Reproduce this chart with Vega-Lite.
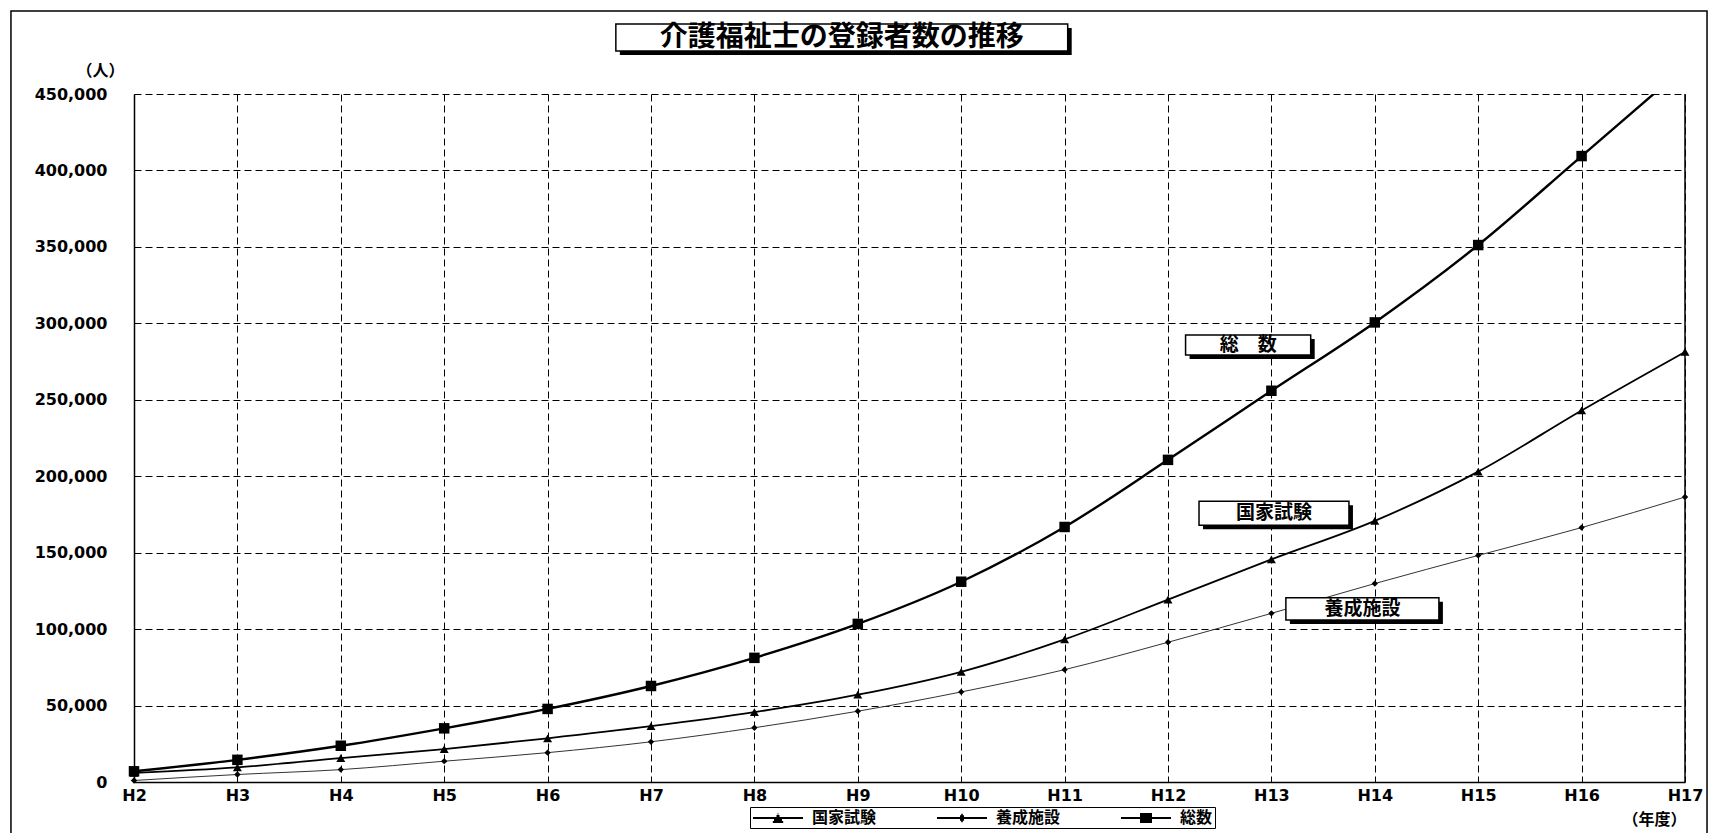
{
  "$schema": "https://vega.github.io/schema/vega-lite/v6.json",
  "width": 1551,
  "height": 688,
  "autosize": {"type": "none"},
  "padding": {"left": 134, "top": 94, "right": 25, "bottom": 51},
  "background": "white",
  "config": {"view": {"stroke": null}, "font": "Noto Sans CJK JP"},
  "datasets": {
    "counts": [
      {"year": 2, "series": "国家試験", "value": 6000},
      {"year": 3, "series": "国家試験", "value": 9600},
      {"year": 4, "series": "国家試験", "value": 15600},
      {"year": 5, "series": "国家試験", "value": 21500},
      {"year": 6, "series": "国家試験", "value": 28600},
      {"year": 7, "series": "国家試験", "value": 36500},
      {"year": 8, "series": "国家試験", "value": 45700},
      {"year": 9, "series": "国家試験", "value": 57100},
      {"year": 10, "series": "国家試験", "value": 72100},
      {"year": 11, "series": "国家試験", "value": 93300},
      {"year": 12, "series": "国家試験", "value": 119300},
      {"year": 13, "series": "国家試験", "value": 145600},
      {"year": 14, "series": "国家試験", "value": 170800},
      {"year": 15, "series": "国家試験", "value": 203000},
      {"year": 16, "series": "国家試験", "value": 243000},
      {"year": 17, "series": "国家試験", "value": 281300},
      {"year": 2, "series": "養成施設", "value": 1000},
      {"year": 3, "series": "養成施設", "value": 4900},
      {"year": 4, "series": "養成施設", "value": 8100},
      {"year": 5, "series": "養成施設", "value": 13600},
      {"year": 6, "series": "養成施設", "value": 19200},
      {"year": 7, "series": "養成施設", "value": 26300},
      {"year": 8, "series": "養成施設", "value": 35500},
      {"year": 9, "series": "養成施設", "value": 46300},
      {"year": 10, "series": "養成施設", "value": 58900},
      {"year": 11, "series": "養成施設", "value": 73500},
      {"year": 12, "series": "養成施設", "value": 91400},
      {"year": 13, "series": "養成施設", "value": 110300},
      {"year": 14, "series": "養成施設", "value": 129800},
      {"year": 15, "series": "養成施設", "value": 148200},
      {"year": 16, "series": "養成施設", "value": 166400},
      {"year": 17, "series": "養成施設", "value": 186400},
      {"year": 2, "series": "総数", "value": 7000},
      {"year": 3, "series": "総数", "value": 14500},
      {"year": 4, "series": "総数", "value": 23700},
      {"year": 5, "series": "総数", "value": 35100},
      {"year": 6, "series": "総数", "value": 47800},
      {"year": 7, "series": "総数", "value": 62800},
      {"year": 8, "series": "総数", "value": 81200},
      {"year": 9, "series": "総数", "value": 103400},
      {"year": 10, "series": "総数", "value": 131000},
      {"year": 11, "series": "総数", "value": 166800},
      {"year": 12, "series": "総数", "value": 210700},
      {"year": 13, "series": "総数", "value": 255900},
      {"year": 14, "series": "総数", "value": 300600},
      {"year": 15, "series": "総数", "value": 351200},
      {"year": 16, "series": "総数", "value": 409400},
      {"year": 17, "series": "総数", "value": 467700}
    ],
    "boxes": [
      {"label": "介護福祉士の登録者数の推移", "kind": "title", "x0": 6.66, "x1": 11.03, "xm": 8.845, "y0": 478100, "y1": 495800, "ym": 486950},
      {"label": "総　数", "kind": "note", "x0": 12.17, "x1": 13.38, "xm": 12.775, "y0": 279300, "y1": 292400, "ym": 285850},
      {"label": "国家試験", "kind": "note", "x0": 12.3, "x1": 13.75, "xm": 13.025, "y0": 168000, "y1": 183700, "ym": 175850},
      {"label": "養成施設", "kind": "note", "x0": 13.14, "x1": 14.62, "xm": 13.88, "y0": 106000, "y1": 120500, "ym": 113250}
    ]
  },
  "resolve": {"scale": {"shape": "independent", "size": "independent"}},
  "layer": [
    {
      "data": {"name": "counts"},
      "mark": {"type": "line", "interpolate": "monotone", "clip": true},
      "encoding": {
        "x": {
          "field": "year",
          "type": "quantitative",
          "scale": {"domain": [2, 17], "nice": false, "zero": false},
          "axis": {
            "values": [2, 3, 4, 5, 6, 7, 8, 9, 10, 11, 12, 13, 14, 15, 16, 17],
            "labelExpr": "'H' + datum.value",
            "labelFlush": false,
            "grid": true,
            "gridDash": [7, 4],
            "gridColor": "black",
            "gridOpacity": 1,
            "ticks": false,
            "domainColor": "black",
            "domainWidth": 1.5,
            "labelFont": "DejaVu Sans",
            "labelFontSize": 16,
            "labelFontWeight": "bold",
            "labelColor": "black",
            "labelPadding": 5,
            "title": "（年度）",
            "titleFont": "Noto Sans CJK JP",
            "titleFontSize": 16,
            "titleFontWeight": "bold",
            "titleColor": "black",
            "titleX": 1520,
            "titleY": 37,
            "titleAlign": "center",
            "titleBaseline": "middle"
          }
        },
        "y": {
          "field": "value",
          "type": "quantitative",
          "scale": {"domain": [0, 450000], "nice": false},
          "axis": {
            "values": [0, 50000, 100000, 150000, 200000, 250000, 300000, 350000, 400000, 450000],
            "format": ",d",
            "grid": true,
            "gridDash": [7, 4],
            "gridColor": "black",
            "gridOpacity": 1,
            "ticks": false,
            "domainColor": "black",
            "domainWidth": 1.5,
            "labelFont": "DejaVu Sans",
            "labelFontSize": 16,
            "labelFontWeight": "bold",
            "labelColor": "black",
            "labelPadding": 27,
            "title": "（人）",
            "titleAngle": 0,
            "titleFont": "Noto Sans CJK JP",
            "titleFontSize": 16,
            "titleFontWeight": "bold",
            "titleColor": "black",
            "titleX": -34,
            "titleY": -24,
            "titleAlign": "center",
            "titleBaseline": "middle"
          }
        },
        "color": {
          "field": "series",
          "type": "nominal",
          "scale": {"type": "ordinal", "domain": ["国家試験", "養成施設", "総数"], "range": ["black", "#333333", "black"]},
          "legend": null
        },
        "strokeWidth": {
          "field": "series",
          "type": "nominal",
          "scale": {"type": "ordinal", "domain": ["国家試験", "養成施設", "総数"], "range": [1.8, 1, 2.4]},
          "legend": null
        }
      }
    },
    {
      "data": {"name": "counts"},
      "transform": [{"filter": "datum.value <= 450000"}],
      "mark": {"type": "point", "filled": true, "opacity": 1, "color": "black"},
      "encoding": {
        "x": {"field": "year", "type": "quantitative"},
        "y": {"field": "value", "type": "quantitative"},
        "shape": {
          "field": "series",
          "type": "nominal",
          "scale": {"type": "ordinal", "domain": ["国家試験", "養成施設", "総数"], "range": ["triangle-up", "diamond", "square"]},
          "legend": null
        },
        "size": {
          "field": "series",
          "type": "nominal",
          "scale": {"type": "ordinal", "domain": ["国家試験", "養成施設", "総数"], "range": [80, 40, 110]},
          "legend": null
        }
      }
    },
    {
      "data": {"name": "counts"},
      "transform": [{"filter": "false"}],
      "mark": {"type": "point", "filled": false, "color": "black", "strokeWidth": 2, "opacity": 1},
      "encoding": {
        "x": {"field": "year", "type": "quantitative"},
        "y": {"field": "value", "type": "quantitative"},
        "shape": {
          "field": "series",
          "type": "nominal",
          "scale": {
            "type": "ordinal",
            "domain": ["国家試験", "養成施設", "総数"],
            "range": [
              "M-1,0H5.25M2.085,-0.5H2.165M1.935,-0.25H2.315M1.625,0.25H2.625M1.475,0.5H2.775",
              "M-1,0H5.25M2.025,-0.4H2.225M1.875,-0.22H2.375M1.875,0.22H2.375M2.025,0.4H2.225",
              "M-1,0H5.25M1.375,-0.5H2.875M1.375,-0.25H2.875M1.375,0.25H2.875M1.375,0.5H2.875"
            ]
          },
          "legend": {
            "title": null,
            "orient": "none",
            "legendX": 616,
            "legendY": 713,
            "direction": "horizontal",
            "strokeColor": "black",
            "fillColor": "white",
            "padding": 2,
            "columnPadding": 56,
            "labelOffset": 42,
            "labelFont": "Noto Sans CJK JP",
            "labelFontSize": 16,
            "labelFontWeight": "bold",
            "labelColor": "black",
            "symbolSize": 256,
            "symbolStrokeColor": "black",
            "symbolStrokeWidth": 2,
            "symbolOpacity": 1
          }
        }
      }
    },
    {
      "data": {"values": [{}]},
      "mark": {"type": "rule", "color": "black", "strokeWidth": 1.5},
      "encoding": {"x": {"datum": 17}}
    },
    {
      "data": {"values": [{}]},
      "mark": {"type": "rect", "fill": "transparent", "stroke": "black", "strokeWidth": 1.5},
      "encoding": {
        "x": {"datum": 0.81},
        "x2": {"datum": 17.213},
        "y": {"datum": -80000},
        "y2": {"datum": 504300}
      }
    },
    {
      "data": {"name": "boxes"},
      "mark": {"type": "rect", "color": "black", "xOffset": 4, "x2Offset": 4, "yOffset": 4, "y2Offset": 4},
      "encoding": {
        "x": {"field": "x0", "type": "quantitative"},
        "x2": {"field": "x1"},
        "y": {"field": "y0", "type": "quantitative"},
        "y2": {"field": "y1"}
      }
    },
    {
      "data": {"name": "boxes"},
      "mark": {"type": "rect", "fill": "white", "stroke": "black", "strokeWidth": 1.5},
      "encoding": {
        "x": {"field": "x0", "type": "quantitative"},
        "x2": {"field": "x1"},
        "y": {"field": "y0", "type": "quantitative"},
        "y2": {"field": "y1"}
      }
    },
    {
      "data": {"name": "boxes"},
      "mark": {"type": "text", "align": "center", "baseline": "middle", "font": "Noto Sans CJK JP", "fontWeight": "bold", "color": "black"},
      "encoding": {
        "x": {"field": "xm", "type": "quantitative"},
        "y": {"field": "ym", "type": "quantitative"},
        "text": {"field": "label"},
        "size": {
          "field": "kind",
          "type": "nominal",
          "scale": {"type": "ordinal", "domain": ["title", "note"], "range": [28, 19]},
          "legend": null
        }
      }
    }
  ]
}
